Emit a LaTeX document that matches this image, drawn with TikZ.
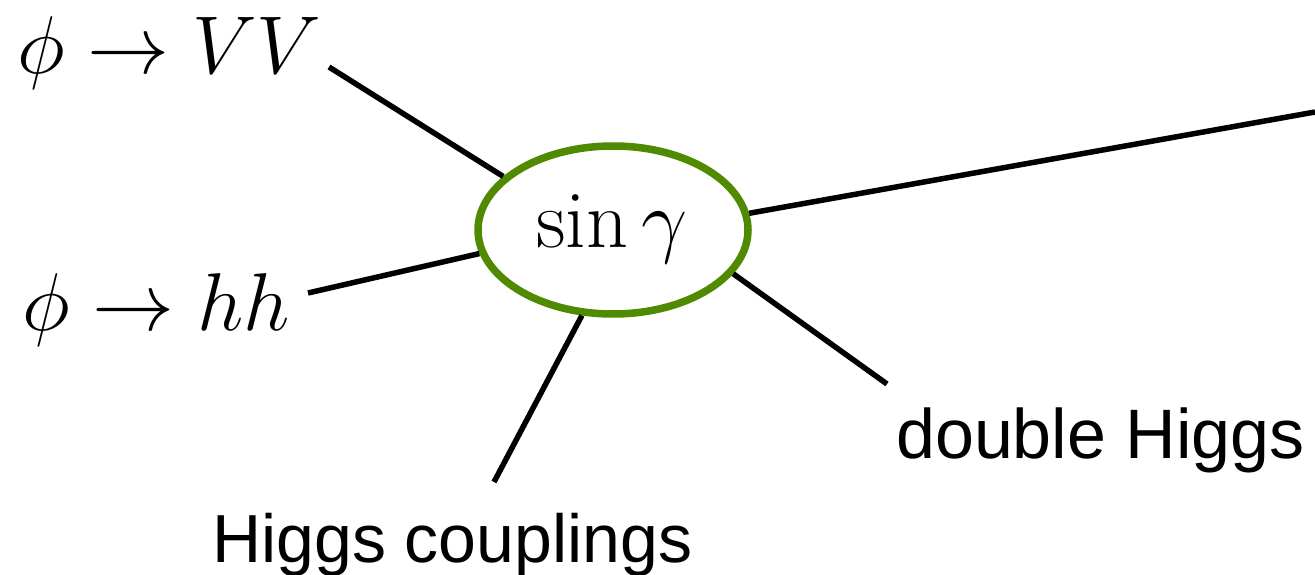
\RequirePackage{fix-cm}
\documentclass[tikz,border=0pt]{standalone}
\usepackage{fontspec}
\newfontfamily\arialf{Liberation Sans}
\usetikzlibrary{shapes.geometric}
\definecolor{ellgreen}{RGB}{80,138,0}
\begin{document}
\begin{tikzpicture}[x=1pt,y=-1pt,
  conn/.style={line width=5.5pt,black},
  mathlbl/.style={inner sep=0pt,font=\fontsize{82}{90}\selectfont},
  sanslbl/.style={inner sep=0pt,font=\arialf\fontsize{68}{76}\selectfont},
  hub/.style={ellipse,draw=ellgreen,line width=7.5pt,minimum width=270pt,minimum height=168pt,inner sep=0pt}]
\useasboundingbox (0,0) rectangle (1315,575);
% hub
\node[hub] (e) at (613,230) {};
\node[mathlbl,anchor=base] (sg) at (612,247) {$\sin\gamma$};
% labels
\node[mathlbl,anchor=base west] (vv) at (17,74) {$\phi\to VV$};
\node[mathlbl,anchor=base west] (hh) at (22,330) {$\phi\to hh$};
\node[sanslbl,anchor=base west,font=\arialf\fontsize{70}{78}\selectfont] (dh) at (896,458) {double Higgs};
\node[sanslbl,anchor=base west] (hc) at (212,562) {Higgs couplings};
% free ends
\coordinate (cvv) at (329,67);
\coordinate (chh) at (308,293);
\coordinate (ctr) at (1315,112);
\coordinate (cdh) at (887,384);
\coordinate (chc) at (494,482);
% connectors
\draw[conn] (cvv) -- (e.154);
\draw[conn] (chh) -- (e.190);
\draw[conn] (e.7) -- (ctr);
\draw[conn] (e.-20) -- (cdh);
\draw[conn] (e.250) -- (chc);
\end{tikzpicture}
\end{document}
